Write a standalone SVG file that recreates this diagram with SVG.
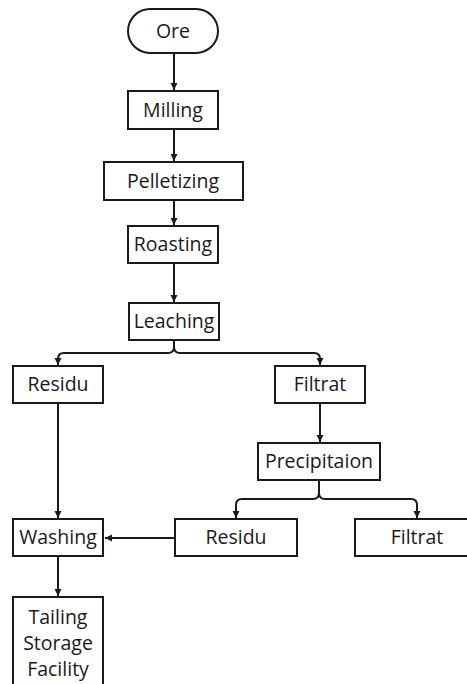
<svg xmlns="http://www.w3.org/2000/svg" width="467" height="684" viewBox="0 0 467 684">
<style>
.box{fill:#fff;stroke:#1a1a1a;stroke-width:2}
.t{font-family:"Open Sans","Noto Sans",sans-serif;font-size:19.5px;fill:#1a1a1a;text-anchor:middle}
.c{fill:none;stroke:#1a1a1a;stroke-width:2}
</style>
<defs>
<marker id="ah" markerUnits="userSpaceOnUse" markerWidth="10" markerHeight="10" refX="8" refY="5" orient="auto">
<path d="M1,1.5 L8,5 L1,8.5 Z" fill="#1a1a1a"/>
</marker>
</defs>
<rect width="467" height="684" fill="#fff"/>
<g id="connectors">
<path class="c" d="M174,53 V90" marker-end="url(#ah)"/>
<path class="c" d="M174,129 V161" marker-end="url(#ah)"/>
<path class="c" d="M174,200 V225" marker-end="url(#ah)"/>
<path class="c" d="M174,263 V302" marker-end="url(#ah)"/>
<path class="c" d="M174,340 V347 Q174,353 168,353 H64 Q58,353 58,359 V365" marker-end="url(#ah)"/>
<path class="c" d="M174,347 Q174,353 180,353 H314 Q320,353 320,359 V365" marker-end="url(#ah)"/>
<path class="c" d="M320,403 V442" marker-end="url(#ah)"/>
<path class="c" d="M319,480 V493 Q319,499 313,499 H242 Q236,499 236,505 V518" marker-end="url(#ah)"/>
<path class="c" d="M319,493 Q319,499 325,499 H411 Q417,499 417,505 V518" marker-end="url(#ah)"/>
<path class="c" d="M58,403 V518" marker-end="url(#ah)"/>
<path class="c" d="M175,538 H105" marker-end="url(#ah)"/>
<path class="c" d="M58,556 V596" marker-end="url(#ah)"/>
</g>
<g id="ore"><rect class="box" x="128" y="9" width="90" height="44" rx="22"/><text class="t" x="173" y="38">Ore</text></g>
<g id="milling"><rect class="box" x="128" y="91" width="90" height="38"/><text class="t" x="173" y="117">Milling</text></g>
<g id="pelletizing"><rect class="box" x="104" y="162" width="139" height="38"/><text class="t" x="173" y="188">Pelletizing</text></g>
<g id="roasting"><rect class="box" x="128" y="226" width="90" height="37"/><text class="t" x="173" y="251">Roasting</text></g>
<g id="leaching"><rect class="box" x="129" y="303" width="90" height="37"/><text class="t" x="174" y="328">Leaching</text></g>
<g id="residu1"><rect class="box" x="13" y="366" width="90" height="37"/><text class="t" x="58" y="391">Residu</text></g>
<g id="filtrat1"><rect class="box" x="275" y="366" width="90" height="37"/><text class="t" x="320" y="391">Filtrat</text></g>
<g id="precipitation"><rect class="box" x="258" y="443" width="122" height="37"/><text class="t" x="319" y="468">Precipitaion</text></g>
<g id="washing"><rect class="box" x="13" y="519" width="90" height="37"/><text class="t" x="58" y="544">Washing</text></g>
<g id="residu2"><rect class="box" x="175" y="519" width="122" height="37"/><text class="t" x="236" y="544">Residu</text></g>
<g id="filtrat2"><rect class="box" x="355" y="519" width="124" height="37"/><text class="t" x="417" y="544">Filtrat</text></g>
<g id="tailing"><rect class="box" x="13" y="597" width="90" height="100"/><text class="t" x="58" y="624">Tailing</text><text class="t" x="58" y="650">Storage</text><text class="t" x="58" y="676">Facility</text></g>
</svg>
